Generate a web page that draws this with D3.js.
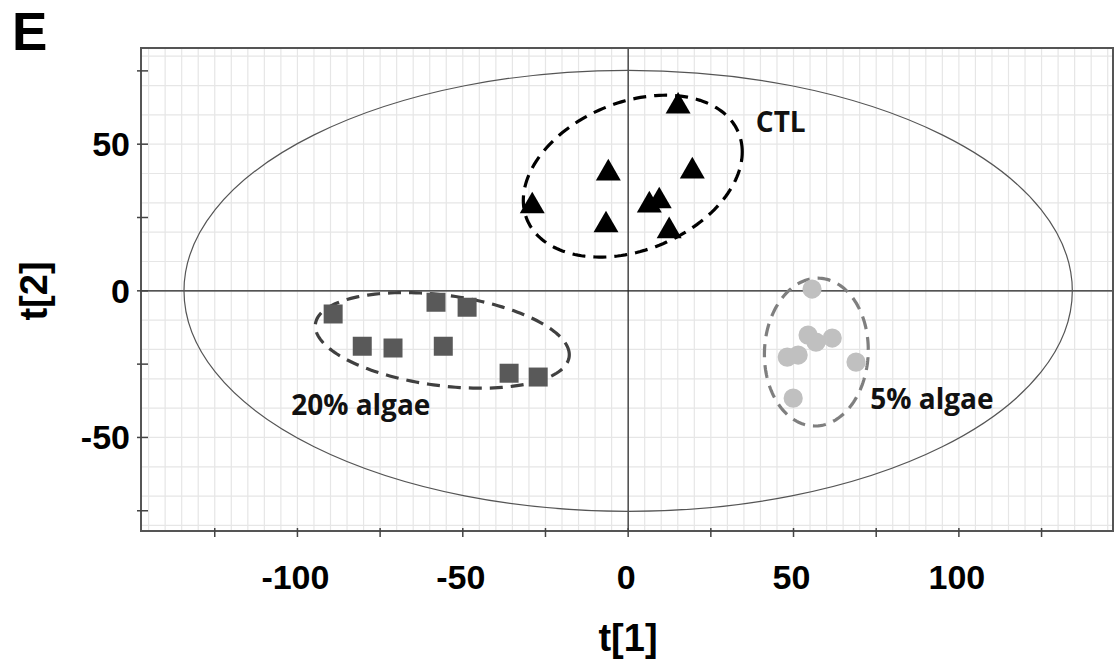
<!DOCTYPE html>
<html>
<head>
<meta charset="utf-8">
<script src="https://cdn.jsdelivr.net/npm/d3@7"></script>
<style>
	body { margin: 0; background: #fff; }
	svg { display: block; }
</style>
</head>
<body>
<svg id="score-plot"></svg>
<script>
// score values (t[1], t[2])
var ctlT1 = [15.1, -6.0, 19.4, -29.0, -6.7, 6.4, 9.4, 12.4];
var ctlT2 = [62.9, 40.1, 40.8, 28.9, 22.4, 29.2, 30.6, 20.4];

var algae20T1 = [-89.2, -58.1, -48.7, -80.4, -71.1, -55.9, -36.0, -27.2];
var algae20T2 = [-7.9, -3.9, -5.6, -18.9, -19.5, -18.9, -28.1, -29.4];

var algae5T1 = [55.6, 54.4, 56.8, 61.7, 48.1, 51.4, 68.9, 49.9];
var algae5T2 = [0.6, -15.1, -17.5, -16.1, -22.6, -21.9, -24.3, -36.6];

// group ellipses: centre, half width, half height, correlation
var groupNames = ['CTL', '20% algae', '5% algae'];
var groupCx = [1.4, -56.2, 56.9];
var groupCy = [39.1, -16.9, -20.9];
var groupHw = [33.1, 38.4, 15.7];
var groupHh = [27.6, 16.3, 25.2];
var groupRho = [0.3, -0.3, 0.03];
var labelT1 = [38.6, -101.9, 73.2];
var labelT2 = [54.1, -42.2, -40.3];

// hotelling T2 ellipse
var t2Rx = 134.3;
var t2Ry = 75.2;

var xTicks = [-125, -100, -75, -50, -25, 0, 25, 50, 75, 100, 125];
var xLabels = [-100, -50, 0, 50, 100];
var yTicks = [-75, -50, -25, 0, 25, 50, 75];
var yLabels = [-50, 0, 50];

var W = 1117, H = 666;
var margin = {top: 48, right: 4, bottom: 135, left: 141};
var width = W - margin.left - margin.right,
	height = H - margin.top - margin.bottom;

var svg = d3.select('#score-plot')
	.attr('width', W)
	.attr('height', H);

var x = d3.scaleLinear()
	.domain([-147.3, 146.6])
	.range([margin.left, margin.left + width]);

var y = d3.scaleLinear()
	.domain([-81.9, 82.8])
	.range([margin.top + height, margin.top]);

// fine grid
svg.append('g')
	.selectAll('line')
	.data(d3.range(-145, 146, 5))
	.enter()
	.append('line')
	.attr('x1', function(d) { return x(d); })
	.attr('x2', function(d) { return x(d); })
	.attr('y1', margin.top)
	.attr('y2', margin.top + height)
	.style('stroke', '#e6e6e6')
	.style('stroke-width', 1.2);

svg.append('g')
	.selectAll('line')
	.data(d3.range(-80, 81, 10))
	.enter()
	.append('line')
	.attr('y1', function(d) { return y(d); })
	.attr('y2', function(d) { return y(d); })
	.attr('x1', margin.left)
	.attr('x2', margin.left + width)
	.style('stroke', '#e6e6e6')
	.style('stroke-width', 1.2);

// zero lines
svg.append('line')
	.attr('x1', x(0)).attr('x2', x(0))
	.attr('y1', margin.top).attr('y2', margin.top + height)
	.style('stroke', '#222')
	.style('stroke-width', 1.2);

svg.append('line')
	.attr('y1', y(0)).attr('y2', y(0))
	.attr('x1', margin.left).attr('x2', margin.left + width)
	.style('stroke', '#222')
	.style('stroke-width', 1.2);

// hotelling ellipse
svg.append('ellipse')
	.attr('cx', x(0))
	.attr('cy', y(0))
	.attr('rx', x(t2Rx) - x(0))
	.attr('ry', y(0) - y(t2Ry))
	.style('fill', 'none')
	.style('stroke', '#555')
	.style('stroke-width', 1.2);

// frame
svg.append('rect')
	.attr('x', margin.left)
	.attr('y', margin.top)
	.attr('width', width)
	.attr('height', height)
	.style('fill', 'none')
	.style('stroke', '#555')
	.style('stroke-width', 2);

// ticks crossing the frame
svg.append('g')
	.selectAll('line')
	.data(xTicks)
	.enter()
	.append('line')
	.attr('x1', function(d) { return x(d); })
	.attr('x2', function(d) { return x(d); })
	.attr('y1', margin.top + height - 3)
	.attr('y2', margin.top + height + 6)
	.style('stroke', '#444')
	.style('stroke-width', 1.5);

svg.append('g')
	.selectAll('line')
	.data(yTicks)
	.enter()
	.append('line')
	.attr('y1', function(d) { return y(d); })
	.attr('y2', function(d) { return y(d); })
	.attr('x1', margin.left - 4)
	.attr('x2', margin.left + 7)
	.style('stroke', '#444')
	.style('stroke-width', 1.5);

var tickFont = '"Liberation Sans", Arial, sans-serif';

svg.append('g')
	.selectAll('text')
	.data(xLabels)
	.enter()
	.append('text')
	.attr('x', function(d) { return x(d) - 2; })
	.attr('y', 589)
	.attr('text-anchor', 'middle')
	.style('font-family', tickFont)
	.style('font-weight', 'bold')
	.style('font-size', '34px')
	.text(function(d) { return d; });

svg.append('g')
	.selectAll('text')
	.data(yLabels)
	.enter()
	.append('text')
	.attr('x', 130)
	.attr('y', function(d) { return y(d) + 12; })
	.attr('text-anchor', 'end')
	.style('font-family', tickFont)
	.style('font-weight', 'bold')
	.style('font-size', '34px')
	.text(function(d) { return d; });

// axis titles
svg.append('text')
	.attr('x', 628)
	.attr('y', 651)
	.attr('text-anchor', 'middle')
	.style('font-family', tickFont)
	.style('font-weight', 'bold')
	.style('font-size', '38px')
	.text('t[1]');

svg.append('text')
	.attr('transform', 'translate(47, 291) rotate(-90)')
	.attr('text-anchor', 'middle')
	.style('font-family', tickFont)
	.style('font-weight', 'bold')
	.style('font-size', '38px')
	.text('t[2]');

// panel letter
svg.append('text')
	.attr('x', 12)
	.attr('y', 50)
	.style('font-family', tickFont)
	.style('font-weight', 'bold')
	.style('font-size', '53px')
	.text('E');

// dashed group ellipses
var groupStroke = ['#000', '#404040', '#7f7f7f'];
var ellipseLine = d3.line()
	.x(function(d) { return x(d[0]); })
	.y(function(d) { return y(d[1]); })
	.curve(d3.curveLinearClosed);

groupNames.forEach(function(name, i) {
	var pts = d3.range(0, 2 * Math.PI, Math.PI / 90).map(function(t) {
		return [
			groupCx[i] + groupHw[i] * Math.cos(t),
			groupCy[i] + groupHh[i] * (groupRho[i] * Math.cos(t) + Math.sqrt(1 - groupRho[i] * groupRho[i]) * Math.sin(t))
		];
	});
	svg.append('path')
		.attr('d', ellipseLine(pts))
		.style('fill', 'none')
		.style('stroke', groupStroke[i])
		.style('stroke-width', 3.2)
		.style('stroke-dasharray', '13,8');
});

// points
var symbol = d3.symbol();

svg.append('g')
	.selectAll('path')
	.data(d3.zip(algae20T1, algae20T2))
	.enter()
	.append('path')
	.attr('transform', function(d) { return 'translate(' + x(d[0]) + ',' + y(d[1]) + ')'; })
	.attr('d', symbol.type(d3.symbolSquare).size(361)())
	.style('fill', '#595959');

svg.append('g')
	.selectAll('path')
	.data(d3.zip(algae5T1, algae5T2))
	.enter()
	.append('path')
	.attr('transform', function(d) { return 'translate(' + x(d[0]) + ',' + y(d[1]) + ')'; })
	.attr('d', symbol.type(d3.symbolCircle).size(290)())
	.style('fill', '#c0c0c0');

svg.append('g')
	.selectAll('path')
	.data(d3.zip(ctlT1, ctlT2))
	.enter()
	.append('path')
	.attr('transform', function(d) { return 'translate(' + x(d[0]) + ',' + y(d[1]) + ')'; })
	.attr('d', symbol.type(d3.symbolTriangle).size(270)())
	.style('fill', '#000');

// group labels
svg.append('g')
	.selectAll('text')
	.data(groupNames)
	.enter()
	.append('text')
	.attr('x', function(d, i) { return x(labelT1[i]); })
	.attr('y', function(d, i) { return y(labelT2[i]); })
	.style('font-family', '"Open Sans", sans-serif')
	.style('font-weight', 700)
	.style('font-size', '28px')
	.style('fill', '#111')
	.text(function(d) { return d; });
</script>
</body>
</html>
